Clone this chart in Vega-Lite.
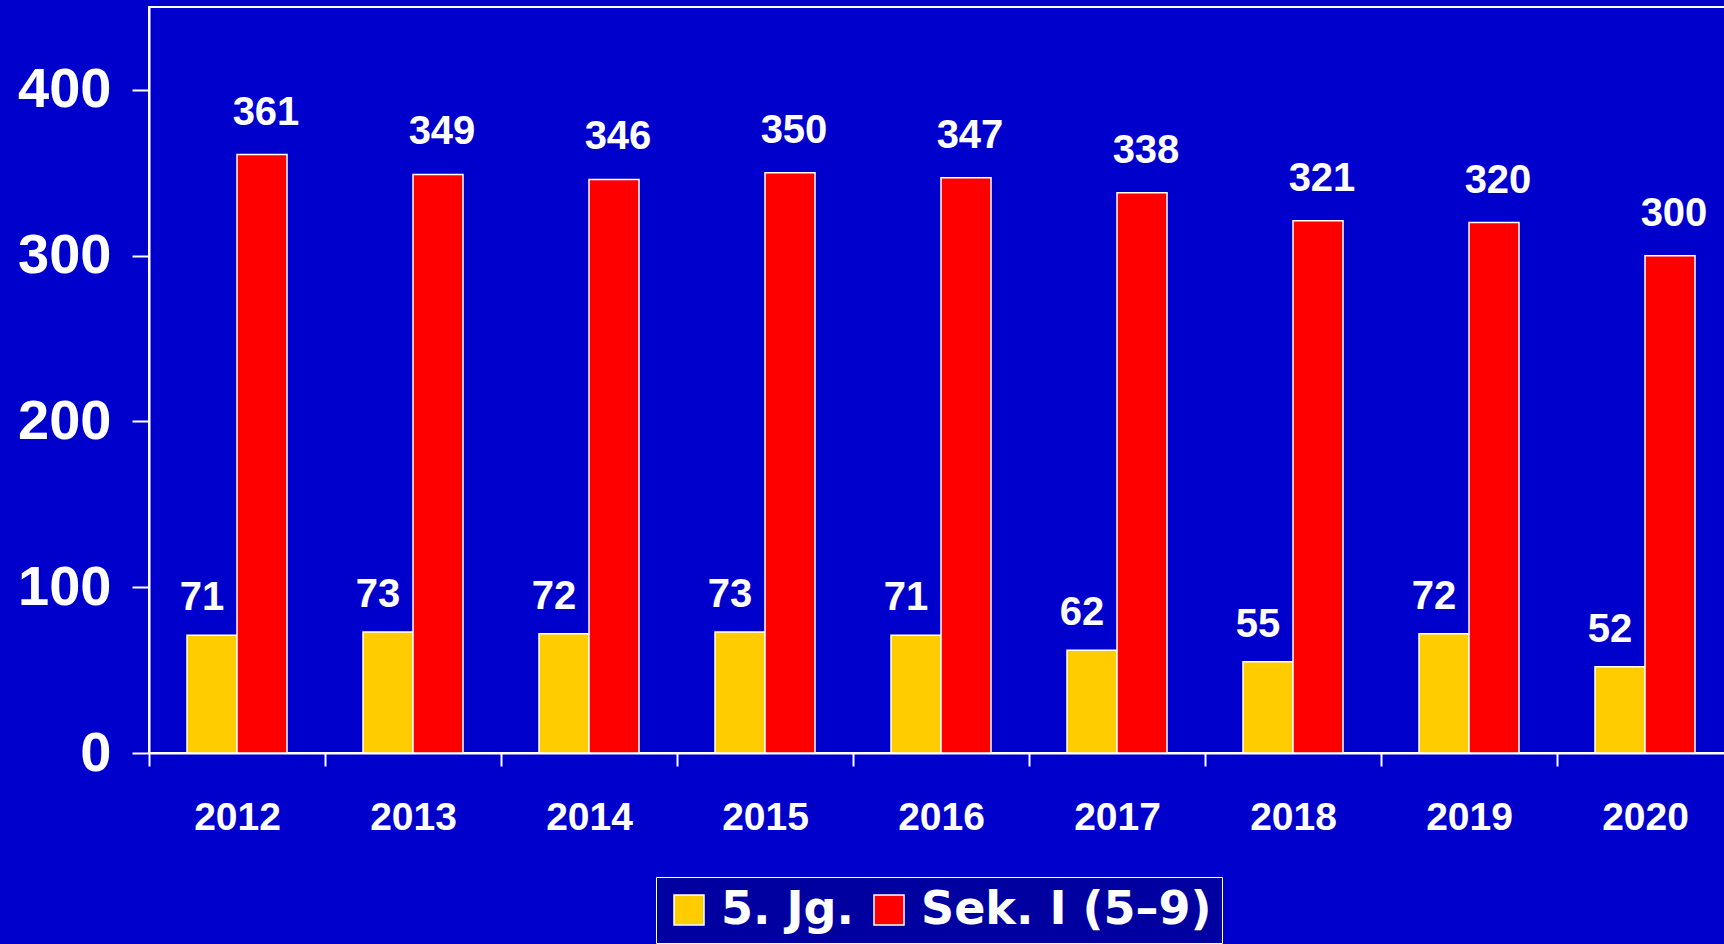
{
  "$schema": "https://vega.github.io/schema/vega-lite/v6.json",
  "width": 1584,
  "height": 746,
  "autosize": {"type": "none"},
  "padding": {"left": 149, "top": 7, "right": 0, "bottom": 191},
  "background": "#0000CC",
  "config": {
    "view": {"stroke": "white", "strokeWidth": 2, "fill": "#0000CC"},
    "font": "Liberation Sans"
  },
  "data": {
    "values": [
      {"year": "2012", "series": "5. Jg.", "value": 71},
      {"year": "2013", "series": "5. Jg.", "value": 73},
      {"year": "2014", "series": "5. Jg.", "value": 72},
      {"year": "2015", "series": "5. Jg.", "value": 73},
      {"year": "2016", "series": "5. Jg.", "value": 71},
      {"year": "2017", "series": "5. Jg.", "value": 62},
      {"year": "2018", "series": "5. Jg.", "value": 55},
      {"year": "2019", "series": "5. Jg.", "value": 72},
      {"year": "2020", "series": "5. Jg.", "value": 52},
      {"year": "2012", "series": "Sek. I (5–9)", "value": 361},
      {"year": "2013", "series": "Sek. I (5–9)", "value": 349},
      {"year": "2014", "series": "Sek. I (5–9)", "value": 346},
      {"year": "2015", "series": "Sek. I (5–9)", "value": 350},
      {"year": "2016", "series": "Sek. I (5–9)", "value": 347},
      {"year": "2017", "series": "Sek. I (5–9)", "value": 338},
      {"year": "2018", "series": "Sek. I (5–9)", "value": 321},
      {"year": "2019", "series": "Sek. I (5–9)", "value": 320},
      {"year": "2020", "series": "Sek. I (5–9)", "value": 300}
    ]
  },
  "encoding": {
    "x": {
      "field": "year",
      "type": "nominal",
      "scale": {"paddingInner": 0, "paddingOuter": 0},
      "axis": {
        "title": null,
        "labelAngle": 0,
        "tickBand": "extent",
        "tickSize": 13,
        "tickWidth": 2,
        "tickColor": "white",
        "domainColor": "white",
        "domainWidth": 2,
        "labelColor": "white",
        "labelFont": "Liberation Sans",
        "labelFontWeight": "bold",
        "labelFontSize": 39,
        "labelPadding": 32
      }
    },
    "xOffset": {
      "field": "series",
      "type": "nominal",
      "sort": ["5. Jg.", "Sek. I (5–9)"],
      "scale": {"paddingInner": 0, "paddingOuter": 0.76}
    },
    "y": {
      "field": "value",
      "type": "quantitative",
      "scale": {"domain": [0, 450], "nice": false},
      "axis": {
        "title": null,
        "values": [0, 100, 200, 300, 400],
        "grid": false,
        "tickSize": 17,
        "tickWidth": 2,
        "tickColor": "white",
        "domainColor": "white",
        "domainWidth": 2,
        "labelColor": "white",
        "labelFont": "Liberation Sans",
        "labelFontWeight": "bold",
        "labelFontSize": 56,
        "labelPadding": 21
      }
    }
  },
  "layer": [
    {
      "mark": {"type": "bar", "stroke": "white", "strokeWidth": 1.5},
      "encoding": {
        "color": {
          "field": "series",
          "type": "nominal",
          "sort": ["5. Jg.", "Sek. I (5–9)"],
          "scale": {"domain": ["5. Jg.", "Sek. I (5–9)"], "range": ["#FFCC00", "#FF0000"]},
          "legend": {
            "title": null,
            "orient": "none",
            "legendX": 507,
            "legendY": 870,
            "direction": "horizontal",
            "fillColor": "#0000A0",
            "strokeColor": "white",
            "padding": 10,
            "symbolType": "square",
            "symbolSize": 900,
            "symbolStrokeColor": "white",
            "symbolStrokeWidth": 1.5,
            "labelColor": "white",
            "labelFont": "DejaVu Sans",
            "labelFontWeight": "bold",
            "labelFontSize": 46,
            "labelOffset": 9,
            "labelLimit": 600,
            "columnPadding": 11
          }
        }
      }
    },
    {
      "transform": [{"filter": "datum.series === '5. Jg.'"}],
      "mark": {
        "type": "text",
        "color": "white",
        "font": "Liberation Sans",
        "fontWeight": "bold",
        "fontSize": 40,
        "baseline": "alphabetic",
        "dx": -10,
        "dy": -25
      },
      "encoding": {"text": {"field": "value", "type": "quantitative"}}
    },
    {
      "transform": [{"filter": "datum.series !== '5. Jg.'"}],
      "mark": {
        "type": "text",
        "color": "white",
        "font": "Liberation Sans",
        "fontWeight": "bold",
        "fontSize": 40,
        "baseline": "alphabetic",
        "dx": 4,
        "dy": -30
      },
      "encoding": {"text": {"field": "value", "type": "quantitative"}}
    }
  ]
}
